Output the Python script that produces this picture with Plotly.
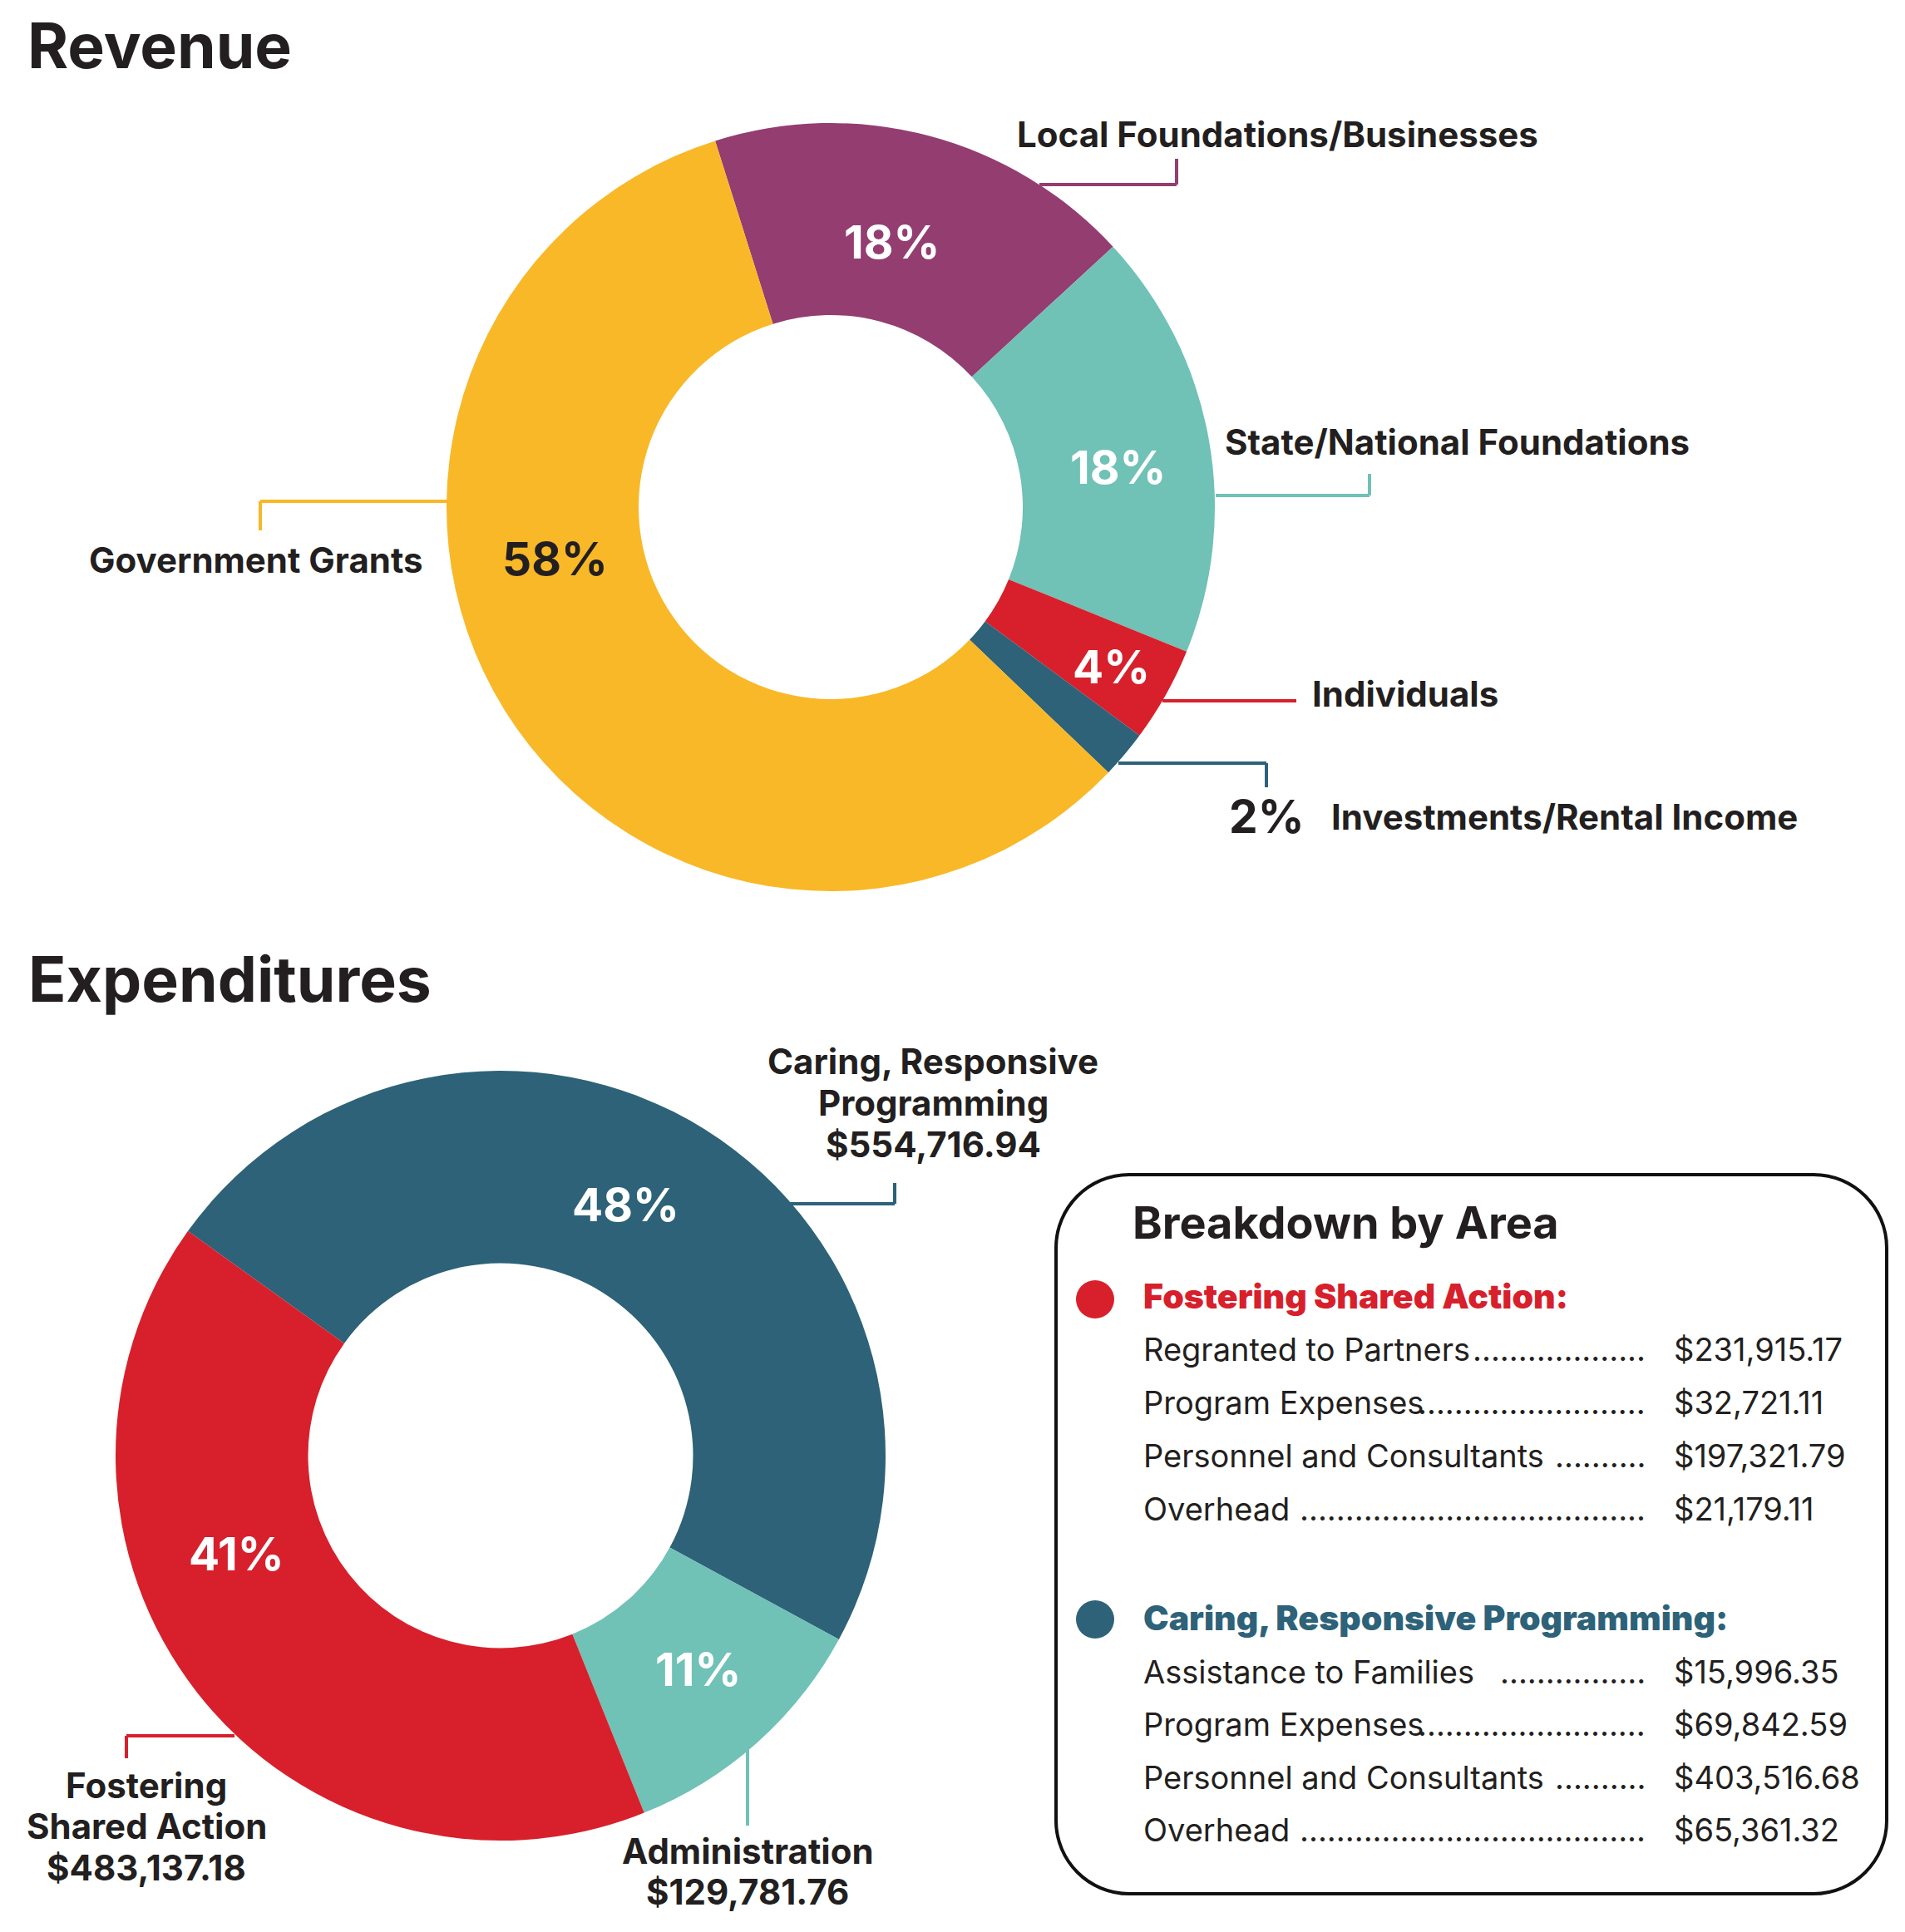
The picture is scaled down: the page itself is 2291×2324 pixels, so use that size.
import plotly.graph_objects as go

W, H = 2291, 2324
FONT = "Inter"
DARK = "#231F20"

# ---------------- data ----------------
rev_labels = ["Local Foundations/Businesses", "State/National Foundations", "Individuals",
              "Investments/Rental Income", "Government Grants"]
rev_values = [18, 18, 4, 2, 58]
rev_colors = ["#943D71", "#70C1B6", "#D7202B", "#2D6279", "#F9B828"]

exp_labels = ["Caring, Responsive Programming", "Administration", "Fostering Shared Action"]
exp_pct = [48, 11, 41]
exp_amounts = ["$554,716.94", "$129,781.76", "$483,137.18"]
exp_colors = ["#2D6279", "#70C1B6", "#D7202B"]

fsa_items = ["Regranted to Partners", "Program Expenses", "Personnel and Consultants", "Overhead"]
fsa_values = ["$231,915.17", "$32,721.11", "$197,321.79", "$21,179.11"]
crp_items = ["Assistance to Families", "Program Expenses", "Personnel and Consultants", "Overhead"]
crp_values = ["$15,996.35", "$69,842.59", "$403,516.68", "$65,361.32"]


def X(px):
    return px / W


def Y(px):
    return 1 - px / H


fig = go.Figure()


def donut(values, colors, cx, cy, r, rotation):
    fig.add_trace(go.Pie(
        values=values, marker=dict(colors=colors, line=dict(width=0)),
        hole=0.5, sort=False, direction="clockwise", rotation=rotation,
        textinfo="none", hoverinfo="skip", showlegend=False,
        domain=dict(x=[X(cx - r), X(cx + r)], y=[Y(cy + r), Y(cy - r)]),
    ))


donut(rev_values, rev_colors, 999, 610, 462, -17.5)
donut(exp_pct, exp_colors, 602, 1751, 463, -54.3)

annotations = []


def text(x, baseline, s, size, weight=700, color=DARK, anchor="left"):
    annotations.append(dict(
        x=X(x), y=Y(baseline - 0.36 * size), xref="paper", yref="paper",
        text=s, showarrow=False, xanchor=anchor, yanchor="middle",
        font=dict(family=FONT, size=size, color=color, weight=weight),
    ))


# titles
text(31, 82, "Revenue", 75)
text(32, 1204, "Expenditures", 75)

# revenue category labels
LBL = 42
text(1221, 177, rev_labels[0], LBL)
text(1471, 547, rev_labels[1], LBL)
text(1576, 850, rev_labels[2], LBL)
text(1599, 998, rev_labels[3], LBL)
text(511, 689, rev_labels[4], LBL, anchor="right")

# revenue percentages
PCT = 55
pct = [f"{v}%" for v in rev_values]
text(1072, 311, pct[0], PCT, color="white", anchor="center")
text(1344, 582, pct[1], PCT, color="white", anchor="center")
text(1336, 822, pct[2], PCT, color="white", anchor="center")
text(1523, 1002, pct[3], PCT, color=DARK, anchor="center")
text(667, 692, pct[4], PCT, color=DARK, anchor="center")

# expenditure percentages
epct = [f"{v}%" for v in exp_pct]
text(752, 1469, epct[0], PCT, color="white", anchor="center")
text(839, 2028, epct[1], PCT, color="white", anchor="center")
text(284, 1889, epct[2], PCT, color="white", anchor="center")

# expenditure labels
text(1122, 1292, "Caring, Responsive", LBL, anchor="center")
text(1122, 1342, "Programming", LBL, anchor="center")
text(1122, 1392, exp_amounts[0], LBL, anchor="center")
text(176, 2163, "Fostering", LBL, anchor="center")
text(176, 2212, "Shared Action", LBL, anchor="center")
text(176, 2262, exp_amounts[2], LBL, anchor="center")
text(899, 2242, exp_labels[1], LBL, anchor="center")
text(899, 2291, exp_amounts[1], LBL, anchor="center")

# breakdown box text
text(1360, 1490, "Breakdown by Area", 54)
text(1373, 1574, exp_labels[2] + ":", 41, weight=900, color=exp_colors[2])
text(1373, 1961, exp_labels[0] + ":", 41, weight=900, color=exp_colors[0])

DOT_END = 1981
ROW = 38
DOT_ADV = 0.28 * ROW
# x (px) where each row's leader dots begin
dot_start = [1773, 1714, 1872, 1568, 1803, 1714, 1872, 1568]
fsa_base = [1637, 1701, 1765, 1829]
crp_base = [2025, 2088, 2152, 2215]
rows = list(zip(fsa_items + crp_items, fsa_values + crp_values, fsa_base + crp_base, dot_start))
for it, v, b, st in rows:
    text(1373, b, it, ROW, weight=400)
    n = int((DOT_END - st) // DOT_ADV)
    text(DOT_END, b, "." * n, ROW, weight=400, anchor="right")
    text(2011, b, v, ROW, weight=400)

# ---------------- shapes ----------------
shapes = []


def seg(points, color):
    for (x0, y0), (x1, y1) in zip(points[:-1], points[1:]):
        shapes.append(dict(type="line", xref="paper", yref="paper",
                           x0=X(x0), y0=Y(y0), x1=X(x1), y1=Y(y1),
                           line=dict(color=color, width=4)))


seg([(537, 603), (313, 603), (313, 638)], rev_colors[4])
seg([(1250, 222), (1415, 222), (1415, 191)], rev_colors[0])
seg([(1462, 596), (1647, 596), (1647, 570)], rev_colors[1])
seg([(1398, 843), (1559, 843)], rev_colors[2])
seg([(1345, 918), (1523, 918), (1523, 947)], rev_colors[3])

seg([(950, 1448), (1076, 1448), (1076, 1423)], exp_colors[0])
seg([(282, 2088), (152, 2088), (152, 2115)], exp_colors[2])
seg([(899, 2104), (899, 2196)], exp_colors[1])

# rounded box
x0, y0, x1, y1, r = 1270, 1413, 2269, 2278, 88
k = 0.5523 * r


def P(x, y):
    return f"{X(x):.6f},{Y(y):.6f}"


path = (f"M {P(x0 + r, y0)} L {P(x1 - r, y0)} "
        f"C {P(x1 - r + k, y0)} {P(x1, y0 + r - k)} {P(x1, y0 + r)} "
        f"L {P(x1, y1 - r)} "
        f"C {P(x1, y1 - r + k)} {P(x1 - r + k, y1)} {P(x1 - r, y1)} "
        f"L {P(x0 + r, y1)} "
        f"C {P(x0 + r - k, y1)} {P(x0, y1 - r + k)} {P(x0, y1 - r)} "
        f"L {P(x0, y0 + r)} "
        f"C {P(x0, y0 + r - k)} {P(x0 + r - k, y0)} {P(x0 + r, y0)} Z")
shapes.append(dict(type="path", xref="paper", yref="paper", path=path,
                   line=dict(color="#111111", width=4), fillcolor="rgba(0,0,0,0)"))

for cy, col in [(1563, exp_colors[2]), (1948, exp_colors[0])]:
    shapes.append(dict(type="circle", xref="paper", yref="paper",
                       x0=X(1317 - 23), x1=X(1317 + 23), y0=Y(cy + 23), y1=Y(cy - 23),
                       fillcolor=col, line=dict(width=0)))

fig.update_layout(
    width=W, height=H, margin=dict(l=0, r=0, t=0, b=0),
    paper_bgcolor="white", plot_bgcolor="white",
    annotations=annotations, shapes=shapes, showlegend=False,
    font=dict(family=FONT, color=DARK),
)

fig.write_html("out.html", config={"displayModeBar": False},
               post_script="document.body.style.margin='0';")
